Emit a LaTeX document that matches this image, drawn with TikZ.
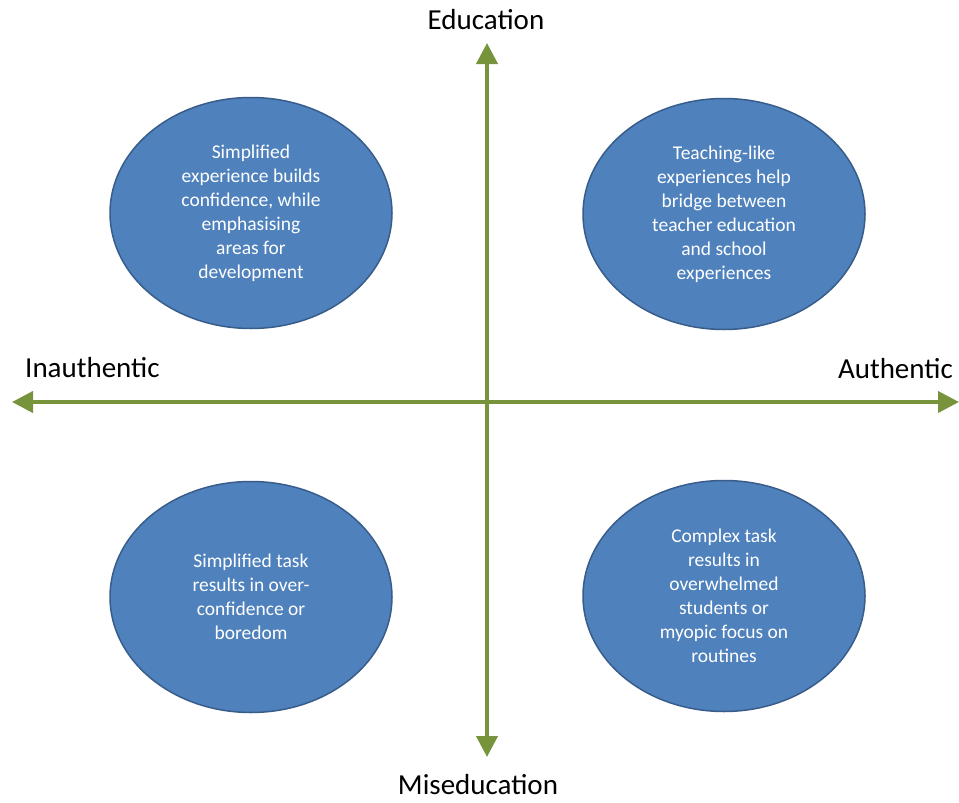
\documentclass[tikz,border=0pt]{standalone}
\usepackage{fontspec}
\setmainfont{Carlito}
\usetikzlibrary{shapes.geometric,arrows.meta}
\definecolor{axisgreen}{HTML}{77933C}
\definecolor{ellfill}{HTML}{4F81BD}
\definecolor{elldraw}{HTML}{385D8A}
\tikzset{
  bubble/.style={ellipse, draw=elldraw, line width=1.5pt, fill=ellfill,
    minimum width=282pt, minimum height=231pt, inner sep=0pt,
    text=white, align=center, font=\fontsize{19.5}{24}\selectfont},
  axisline/.style={draw=axisgreen, line width=4pt,
    {Triangle[width=21pt,length=21pt]}-{Triangle[width=21pt,length=21pt]}},
  axislabel/.style={inner sep=0pt, font=\fontsize{29}{34}\selectfont, text=black}
}
\begin{document}
\begin{tikzpicture}[x=1pt,y=-1pt]
\useasboundingbox (0,0) rectangle (959,803);
\fill[white] (0,0) rectangle (959,803);
\coordinate (L) at (12,402);
\coordinate (R) at (959,402);
\coordinate (T) at (487,43);
\coordinate (B) at (487,757);
\draw[axisline] (L) -- (R);
\draw[axisline] (T) -- (B);
\node[bubble] (tl) at (251,213) {Simplified\\experience builds\\confidence, while\\emphasising\\areas for\\development};
\node[bubble] (tr) at (724,214) {Teaching-like\\experiences help\\bridge between\\teacher education\\and school\\experiences};
\node[bubble] (bl) at (251,597) {Simplified task\\results in over-\\confidence or\\boredom};
\node[bubble] (br) at (724,596) {Complex task\\results in\\overwhelmed\\students or\\myopic focus on\\routines};
\node[axislabel] (edu) at (486,20) {Education};
\node[axislabel] (mis) at (478,785) {Miseducation};
\node[axislabel, anchor=west] (inauth) at (25,368) {Inauthentic};
\node[axislabel, anchor=east] (auth) at (953,369) {Authentic};
\end{tikzpicture}
\end{document}
